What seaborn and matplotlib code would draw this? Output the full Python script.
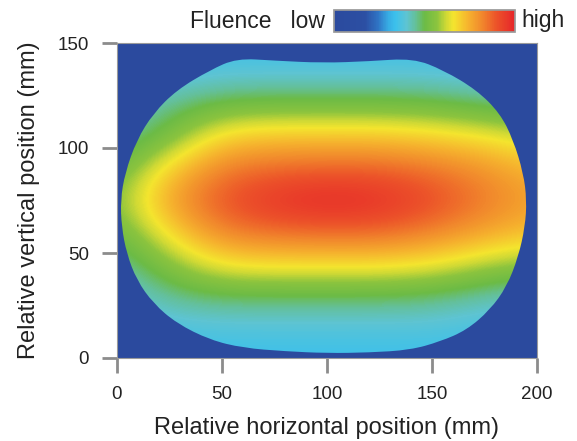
import numpy as np
import matplotlib
matplotlib.use("Agg")
import matplotlib.pyplot as plt
import seaborn as sns
from matplotlib.colors import LinearSegmentedColormap
from matplotlib.patches import PathPatch
from matplotlib.path import Path

# grid positions (mm) of the fluence samples
x_mm = [0, 25, 50, 75, 100, 125, 150, 175, 200]
y_mm = [0, 15, 30, 45, 60, 75, 90, 105, 120, 135, 150]

# relative fluence (0 = low, 1 = high), one row per y_mm value
fluence = [
    [0.34, 0.34, 0.34, 0.34, 0.34, 0.34, 0.34, 0.34, 0.34],
    [0.35, 0.37, 0.38, 0.38, 0.38, 0.38, 0.38, 0.36, 0.35],
    [0.38, 0.46, 0.49, 0.49, 0.49, 0.49, 0.48, 0.44, 0.41],
    [0.43, 0.56, 0.67, 0.68, 0.68, 0.68, 0.66, 0.60, 0.56],
    [0.50, 0.68, 0.83, 0.86, 0.87, 0.87, 0.83, 0.77, 0.72],
    [0.55, 0.78, 0.90, 0.97, 1.00, 0.98, 0.92, 0.84, 0.77],
    [0.50, 0.70, 0.84, 0.87, 0.88, 0.88, 0.85, 0.80, 0.73],
    [0.43, 0.53, 0.70, 0.72, 0.72, 0.72, 0.70, 0.67, 0.62],
    [0.39, 0.46, 0.52, 0.53, 0.53, 0.53, 0.52, 0.49, 0.46],
    [0.35, 0.37, 0.39, 0.39, 0.39, 0.39, 0.39, 0.37, 0.36],
    [0.34, 0.34, 0.34, 0.34, 0.34, 0.34, 0.34, 0.34, 0.34],
]

# outline of the irradiated field (mm), clockwise from the top-left corner
edge_x = [57, 75, 98, 120, 141, 155.4, 171.3, 182.4, 188.7, 193.5, 195.1,
          194.3, 191.1, 185.6, 177.6, 166.5, 153.8, 139.5, 120, 100, 80, 60,
          44.3, 28.4, 17.3, 9.4, 4.6, 2.2, 1.7, 3.8, 9.4, 17.3, 28.4, 44.3]
edge_y = [142.7, 141.6, 140.5, 141.3, 142.7, 137.1, 127.6, 116.5, 103.8, 88,
          75.2, 62.5, 48.2, 34, 22.9, 13.3, 7.8, 3.8, 2.6, 2.3, 3.2, 4.8,
          8.6, 16.5, 26, 37.1, 49.8, 62.5, 75.2, 88, 103.8, 116.5, 127.6,
          137.1]

# colour scale as printed in the legend bar
cmap_pos = [0.0, 0.17, 0.24, 0.30, 0.34, 0.40, 0.45, 0.50, 0.57, 0.62, 0.66,
            0.74, 0.82, 0.90, 1.0]
cmap_hex = ["#2b4a9e", "#2c4fa3", "#2f72c3", "#37ade4", "#3cc1ec", "#5ec4d2",
            "#64c09a", "#6cbb46", "#8cc43e", "#cfd935", "#f4e52e", "#f6b42e",
            "#f1872c", "#ec5229", "#e6252a"]

sns.set_theme(style="ticks")
plt.rcParams['font.family'] = ['Liberation Sans', 'DejaVu Sans']

fig = plt.figure(figsize=(5.77, 4.41), dpi=100)
ax = fig.add_axes([117 / 577, 1 - 358 / 441, 420 / 577, 315 / 441])

cmap = LinearSegmentedColormap.from_list("fluence", list(zip(cmap_pos, cmap_hex)))
ax.set_facecolor(cmap(0.0))

dx = (x_mm[1] - x_mm[0]) / 2
dy = (y_mm[1] - y_mm[0]) / 2
im = ax.imshow(np.array(fluence), origin="lower", cmap=cmap, vmin=0, vmax=1,
               extent=[x_mm[0] - dx, x_mm[-1] + dx, y_mm[0] - dy, y_mm[-1] + dy],
               interpolation="bicubic", aspect="auto")

# smooth outline: quadratic curves through the midpoints of the edge points
pts = np.column_stack([edge_x, edge_y])
mids = (pts + np.roll(pts, -1, axis=0)) / 2
verts = [mids[-1]]
codes = [Path.MOVETO]
for p, m in zip(pts, mids):
    verts += [p, m]
    codes += [Path.CURVE3, Path.CURVE3]
beam = PathPatch(Path(verts, codes), transform=ax.transData,
                 facecolor="none", edgecolor="none")
ax.add_patch(beam)
im.set_clip_path(beam)

ax.set_xlim(0, 200)
ax.set_ylim(0, 150)
ax.set_xticks([0, 50, 100, 150, 200])
ax.set_yticks([0, 50, 100, 150])
ax.tick_params(length=11, width=2, color="#8c8c8c", labelsize=13.5, pad=9,
               labelcolor="#222222")
for s in ax.spines.values():
    s.set_color("#9a9a9a")
    s.set_linewidth(0.8)
ax.set_xlabel("Relative horizontal position (mm)", fontsize=17, labelpad=10,
              color="#222222")
ax.set_ylabel("Relative vertical position (mm)", fontsize=17, labelpad=13,
              color="#222222")

cax = fig.add_axes([334 / 577, 1 - 32 / 441, 181 / 577, 22 / 441])
cb = fig.colorbar(im, cax=cax, orientation="horizontal")
cb.set_ticks([])
cb.outline.set_edgecolor("#999999")
fig.text(325 / 577, 1 - 21 / 441, "Fluence   low", ha="right", va="center",
         fontsize=16.5, color="#222222")
fig.text(521 / 577, 1 - 21 / 441, "high", ha="left", va="center",
         fontsize=16.5, color="#222222")

fig.savefig("out.png", dpi=100)
